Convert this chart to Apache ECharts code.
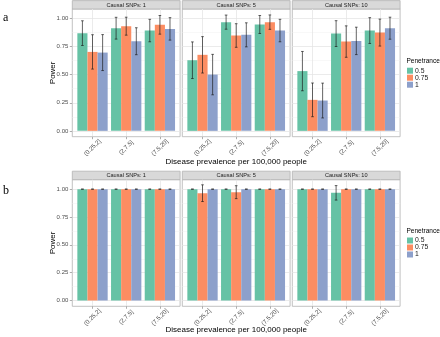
<!DOCTYPE html>
<html>
<head>
<meta charset="utf-8">
<script src="https://cdn.jsdelivr.net/npm/echarts@6/dist/echarts.min.js"></script>
<style>html,body{margin:0;padding:0;background:#fff}#c{width:440px;height:337px}#err{position:absolute;left:0;top:0;font:9px monospace;white-space:pre-wrap;width:440px;color:#c00}</style>
</head>
<body>
<div id="c"></div>
<div id="err"></div>
<script>
// ---------- data ----------
const categories = ['(0.25,2]', '(2,7.5]', '(7.5,20]'];
const penetrance = ['0.5', '0.75', '1'];
const facets = ['Causal SNPs: 1', 'Causal SNPs: 5', 'Causal SNPs: 10'];
const yTicks = [0, 0.25, 0.5, 0.75, 1];
const yTickLabels = ['0.00', '0.25', '0.50', '0.75', '1.00'];
const yMinorTicks = [0.125, 0.375, 0.625, 0.875];

const a_snp1_power = [[0.870, 0.914, 0.893], [0.703, 0.932, 0.944], [0.697, 0.798, 0.908]];
const a_snp1_err   = [[0.110, 0.097, 0.100], [0.153, 0.080, 0.083], [0.160, 0.120, 0.100]];
const a_snp5_power = [[0.629, 0.968, 0.947], [0.677, 0.849, 0.968], [0.501, 0.855, 0.893]];
const a_snp5_err   = [[0.163, 0.063, 0.080], [0.162, 0.105, 0.064], [0.180, 0.107, 0.100]];
const a_snp10_power = [[0.532, 0.866, 0.893], [0.276, 0.795, 0.875], [0.270, 0.801, 0.914]];
const a_snp10_err   = [[0.175, 0.115, 0.115], [0.150, 0.140, 0.120], [0.155, 0.122, 0.098]];
const b_snp1_power = [[1, 1, 1], [1, 1, 1], [1, 1, 1]];
const b_snp1_err   = [[0, 0, 0], [0, 0, 0], [0, 0, 0]];
const b_snp5_power = [[1, 1, 1], [0.964, 0.973, 1], [1, 1, 1]];
const b_snp5_err   = [[0, 0, 0], [0.075, 0.058, 0], [0, 0, 0]];
const b_snp10_power = [[1, 0.967, 1], [1, 1, 1], [1, 1, 1]];
const b_snp10_err   = [[0, 0.065, 0], [0, 0, 0], [0, 0, 0]];

const colors = ['#66C2A5', '#FC8D62', '#8DA0CB'];

// ---------- layout ----------
const FONT = 'Liberation Sans, Arial, sans-serif';
const panelLeft = [72.3, 182.3, 292.3];
const panelW = 107.8;
const rows = [
  {top: 9, height: 127.7, stripTop: 0.6, stripH: 8.4, xTitleY: 162, legendTitleY: 61, legendTop: 67.2, tag: 'a', tagY: 18},
  {top: 179.7, height: 126.6, stripTop: 171.2, stripH: 8.5, xTitleY: 329.5, legendTitleY: 231.7, legendTop: 237, tag: 'b', tagY: 191}
];
const panelData = [
  [a_snp1_power, a_snp1_err], [a_snp5_power, a_snp5_err], [a_snp10_power, a_snp10_err],
  [b_snp1_power, b_snp1_err], [b_snp5_power, b_snp5_err], [b_snp10_power, b_snp10_err]
];
const Y_MIN = -0.052, Y_MAX = 1.085;

const grid = [], xAxis = [], yAxis = [], yMinor = [], series = [], graphic = [], legend = [];

function renderErr(params, api) {
  const c = api.value(0), k = api.value(1), lo = api.value(2), hi = api.value(3);
  const unit = api.size([1, 0])[0];
  const x = api.coord([c + (k - 1) * 0.3, 0])[0];
  const y1 = api.coord([c, lo])[1];
  const y2 = api.coord([c, hi])[1];
  const hw = unit * 0.3 * 0.13;
  const style = {stroke: '#1A1A1A', lineWidth: 0.9, opacity: 0.75};
  return {type: 'group', children: [
    {type: 'line', shape: {x1: x, y1: y1, x2: x, y2: y2}, style: style},
    {type: 'line', shape: {x1: x - hw, y1: y1, x2: x + hw, y2: y1}, style: style},
    {type: 'line', shape: {x1: x - hw, y1: y2, x2: x + hw, y2: y2}, style: style}
  ]};
}

for (let r = 0; r < 2; r++) {
  const row = rows[r];
  for (let p = 0; p < 3; p++) {
    const g = r * 3 + p;
    grid.push({left: panelLeft[p], top: row.top, width: panelW, height: row.height,
      show: true, borderColor: '#B3B3B3', borderWidth: 0.8, backgroundColor: 'transparent'});
    xAxis.push({type: 'value', gridIndex: g, min: -0.6, max: 2.6,
      axisLine: {show: false, onZero: false},
      axisTick: {show: true, customValues: [0, 1, 2], length: 2.5, lineStyle: {color: '#999', width: 0.8}},
      axisLabel: {show: true, customValues: [0, 1, 2], formatter: v => categories[Math.round(v)],
        rotate: 45, align: 'center', verticalAlign: 'middle', margin: 11,
        fontSize: 6.2, fontFamily: FONT, color: '#4D4D4D'},
      splitLine: {show: true, lineStyle: {color: '#E6E6E6', width: 0.8}}});
    yAxis.push({type: 'value', gridIndex: g, min: Y_MIN, max: Y_MAX,
      axisLine: {show: false, onZero: false},
      axisTick: {show: p === 0, customValues: yTicks, length: 2.5, lineStyle: {color: '#999', width: 0.8}},
      axisLabel: {show: p === 0, customValues: yTicks, margin: 4,
        formatter: v => { const i = yTicks.indexOf(v); return i >= 0 ? yTickLabels[i] : ''; },
        fontSize: 6, fontFamily: FONT, color: '#4D4D4D'},
      splitLine: {show: true, lineStyle: {color: '#E6E6E6', width: 0.8}}});
    yMinor.push({type: 'value', gridIndex: g, min: Y_MIN, max: Y_MAX,
      axisLine: {show: false, onZero: false},
      axisTick: {show: false, customValues: yMinorTicks},
      axisLabel: {show: false, customValues: yMinorTicks},
      splitLine: {show: true, lineStyle: {color: '#F0F0F0', width: 0.5}}});

    const [pw, er] = panelData[g];
    for (let k = 0; k < 3; k++) {
      series.push({type: 'bar', name: penetrance[k], xAxisIndex: g, yAxisIndex: g,
        data: categories.map((c, i) => [i, pw[k][i]]),
        itemStyle: {color: colors[k]}, barGap: '0%', barCategoryGap: '10%', silent: true});
    }
    const errData = [];
    for (let k = 0; k < 3; k++) for (let i = 0; i < 3; i++)
      errData.push([i, k, pw[k][i] - er[k][i], pw[k][i] + er[k][i]]);
    series.push({type: 'custom', xAxisIndex: g, yAxisIndex: g, renderItem: renderErr,
      encode: {x: 0, y: [2, 3]}, data: errData, z: 5, silent: true});

    graphic.push({type: 'rect', shape: {x: panelLeft[p], y: row.stripTop, width: panelW, height: row.stripH},
      style: {fill: '#D9D9D9', stroke: '#B3B3B3', lineWidth: 0.8}});
    graphic.push({type: 'text', x: panelLeft[p] + panelW / 2, y: row.stripTop + row.stripH / 2 + 0.3,
      style: {text: facets[p], align: 'center', verticalAlign: 'middle', fontSize: 5.6, fontFamily: FONT, fill: '#1A1A1A'}});
  }
  const cy = row.top + row.height / 2;
  graphic.push({type: 'text', x: 52.7, y: cy, rotation: Math.PI / 2,
    style: {text: 'Power', align: 'center', verticalAlign: 'middle', fontSize: 8, fontFamily: FONT, fill: '#000'}});
  graphic.push({type: 'text', x: panelLeft[0] + (panelLeft[2] + panelW - panelLeft[0]) / 2, y: row.xTitleY,
    style: {text: 'Disease prevalence per 100,000 people', align: 'center', verticalAlign: 'middle', fontSize: 8, fontFamily: FONT, fill: '#000'}});
  graphic.push({type: 'text', x: 406.5, y: row.legendTitleY,
    style: {text: 'Penetrance', align: 'left', verticalAlign: 'middle', fontSize: 6.5, fontFamily: FONT, fill: '#000'}});
  graphic.push({type: 'text', x: 3, y: row.tagY,
    style: {text: row.tag, align: 'left', verticalAlign: 'middle', fontSize: 12, fontFamily: 'Liberation Serif, serif', fill: '#000'}});
  legend.push({left: 407, top: row.legendTop, orient: 'vertical', itemWidth: 6, itemHeight: 6, itemGap: 0,
    padding: 0, icon: 'rect', data: penetrance, selectedMode: false,
    textStyle: {fontSize: 6.8, lineHeight: 6, fontFamily: FONT, color: '#1A1A1A', padding: [0, 0, 0, -3]}});
}

try {
  const chart = echarts.init(document.getElementById('c'), null, {renderer: 'canvas'});
  chart.setOption({animation: false, color: colors, grid, xAxis, yAxis: yAxis.concat(yMinor), series, graphic, legend});
} catch (e) {
  document.getElementById('err').textContent = String(e && e.stack || e);
}
</script>
</body>
</html>
